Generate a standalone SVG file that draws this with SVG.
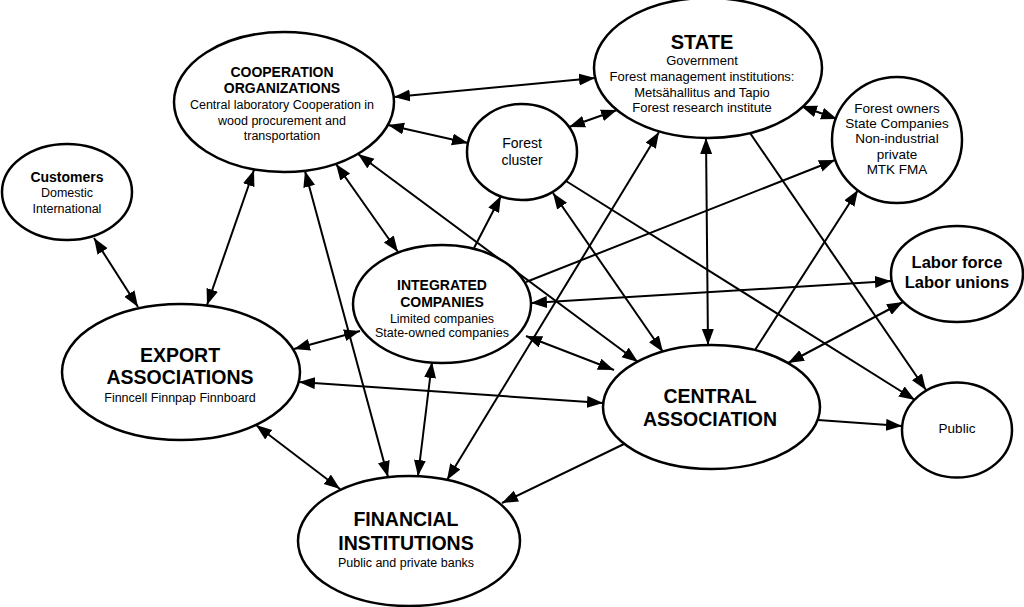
<svg xmlns="http://www.w3.org/2000/svg" width="1024" height="607" viewBox="0 0 1024 607">
<style>
.n{fill:#fff;stroke:#000;stroke-width:2.5}
.t{font-family:"Liberation Sans",Arial,sans-serif;fill:#000;text-anchor:middle}
.b{font-weight:bold}
.c line{stroke:#000;stroke-width:2}
</style>
<defs>
<marker id="a" markerUnits="userSpaceOnUse" markerWidth="17" markerHeight="13" refX="16" refY="6" orient="auto-start-reverse" viewBox="0 0 17 13">
<path d="M0,0 L16,6 L0,12 z" fill="#000"/>
</marker>
</defs>
<rect width="1024" height="607" fill="#fff"/>
<g id="connectors" class="c">
<line x1="94" y1="238" x2="138" y2="307" marker-start="url(#a)" marker-end="url(#a)"/>
<line x1="254" y1="170" x2="207" y2="305" marker-start="url(#a)" marker-end="url(#a)"/>
<line x1="305" y1="171" x2="388" y2="477" marker-start="url(#a)" marker-end="url(#a)"/>
<line x1="336" y1="164" x2="398" y2="252" marker-start="url(#a)" marker-end="url(#a)"/>
<line x1="358" y1="154" x2="638" y2="362" marker-start="url(#a)" marker-end="url(#a)"/>
<line x1="388" y1="125" x2="468" y2="143" marker-start="url(#a)" marker-end="url(#a)"/>
<line x1="394" y1="97" x2="595" y2="78" marker-start="url(#a)" marker-end="url(#a)"/>
<line x1="569" y1="127" x2="617" y2="110" marker-start="url(#a)" marker-end="url(#a)"/>
<line x1="801" y1="106" x2="837" y2="119" marker-start="url(#a)" marker-end="url(#a)"/>
<line x1="474" y1="248" x2="501" y2="196" marker-end="url(#a)"/>
<line x1="553" y1="193" x2="663" y2="352" marker-start="url(#a)" marker-end="url(#a)"/>
<line x1="706" y1="138" x2="708" y2="345" marker-start="url(#a)" marker-end="url(#a)"/>
<line x1="447" y1="480" x2="659" y2="132" marker-start="url(#a)" marker-end="url(#a)"/>
<line x1="418" y1="476" x2="432" y2="362" marker-start="url(#a)" marker-end="url(#a)"/>
<line x1="256" y1="425" x2="340" y2="489" marker-start="url(#a)" marker-end="url(#a)"/>
<line x1="294" y1="349" x2="360" y2="331" marker-start="url(#a)" marker-end="url(#a)"/>
<line x1="299" y1="382" x2="603" y2="403" marker-start="url(#a)" marker-end="url(#a)"/>
<line x1="526" y1="336" x2="614" y2="370" marker-start="url(#a)" marker-end="url(#a)"/>
<line x1="624" y1="444" x2="502" y2="503" marker-end="url(#a)"/>
<line x1="818" y1="420" x2="902" y2="426" marker-end="url(#a)"/>
<line x1="788" y1="363" x2="903" y2="302" marker-start="url(#a)" marker-end="url(#a)"/>
<line x1="891" y1="281" x2="531" y2="303" marker-start="url(#a)" marker-end="url(#a)"/>
<line x1="526" y1="282" x2="835" y2="160" marker-end="url(#a)"/>
<line x1="755" y1="350" x2="858" y2="190" marker-end="url(#a)"/>
<line x1="750" y1="133" x2="926" y2="390" marker-end="url(#a)"/>
<line x1="566" y1="181" x2="915" y2="400" marker-end="url(#a)"/>
</g>
<g id="cooperation">
<ellipse class="n" cx="284" cy="102" rx="110" ry="70"/>
<text class="t b" x="282" y="77" font-size="14">COOPERATION</text>
<text class="t b" x="282" y="93" font-size="14">ORGANIZATIONS</text>
<text class="t" x="282" y="109" font-size="12.5">Central laboratory Cooperation in</text>
<text class="t" x="282" y="125" font-size="12.5">wood procurement and</text>
<text class="t" x="282" y="140" font-size="12.5">transportation</text>
</g>
<g id="state">
<ellipse class="n" cx="708" cy="68" rx="114" ry="70"/>
<text class="t b" x="702" y="49" font-size="20">STATE</text>
<text class="t" x="702" y="65" font-size="13">Government</text>
<text class="t" x="702" y="81" font-size="13">Forest management institutions:</text>
<text class="t" x="702" y="96.5" font-size="13">Metsähallitus and Tapio</text>
<text class="t" x="702" y="112" font-size="13">Forest research institute</text>
</g>
<g id="forest-owners">
<ellipse class="n" cx="897" cy="140" rx="65" ry="63"/>
<text class="t" x="897" y="113" font-size="13.5">Forest owners</text>
<text class="t" x="897" y="128" font-size="13.5">State Companies</text>
<text class="t" x="897" y="143" font-size="13.5">Non-industrial</text>
<text class="t" x="897" y="159" font-size="13.5">private</text>
<text class="t" x="897" y="174" font-size="13.5">MTK FMA</text>
</g>
<g id="forest-cluster">
<ellipse class="n" cx="522" cy="152" rx="55" ry="48"/>
<text class="t" x="522" y="148" font-size="14">Forest</text>
<text class="t" x="522" y="165" font-size="14">cluster</text>
</g>
<g id="customers">
<ellipse class="n" cx="67" cy="192" rx="65" ry="48"/>
<text class="t b" x="67" y="182" font-size="14">Customers</text>
<text class="t" x="67" y="197" font-size="12.5">Domestic</text>
<text class="t" x="67" y="213" font-size="12.5">International</text>
</g>
<g id="integrated">
<ellipse class="n" cx="442" cy="304" rx="89" ry="59"/>
<text class="t b" x="442" y="290" font-size="14">INTEGRATED</text>
<text class="t b" x="442" y="307" font-size="14">COMPANIES</text>
<text class="t" x="442" y="323" font-size="12.5">Limited companies</text>
<text class="t" x="442" y="337" font-size="12.5">State-owned companies</text>
</g>
<g id="labor">
<ellipse class="n" cx="957" cy="274" rx="66" ry="48"/>
<text class="t b" x="957" y="268" font-size="16.5">Labor force</text>
<text class="t b" x="957" y="288" font-size="16.5">Labor unions</text>
</g>
<g id="export">
<ellipse class="n" cx="181" cy="372" rx="119" ry="68"/>
<text class="t b" x="180" y="362" font-size="19.5">EXPORT</text>
<text class="t b" x="180" y="384" font-size="19.5">ASSOCIATIONS</text>
<text class="t" x="180" y="402" font-size="12.5">Finncell Finnpap Finnboard</text>
</g>
<g id="central">
<ellipse class="n" cx="711.5" cy="407" rx="108.5" ry="62"/>
<text class="t b" x="710" y="403" font-size="19.5">CENTRAL</text>
<text class="t b" x="710" y="426" font-size="19.5">ASSOCIATION</text>
</g>
<g id="public">
<ellipse class="n" cx="957" cy="430" rx="55" ry="47.5"/>
<text class="t" x="957" y="433" font-size="13.5">Public</text>
</g>
<g id="financial">
<ellipse class="n" cx="409" cy="541" rx="111" ry="65"/>
<text class="t b" x="406" y="526" font-size="19.5">FINANCIAL</text>
<text class="t b" x="406" y="550" font-size="19.5">INSTITUTIONS</text>
<text class="t" x="406" y="567" font-size="12.5">Public and private banks</text>
</g>
</svg>
